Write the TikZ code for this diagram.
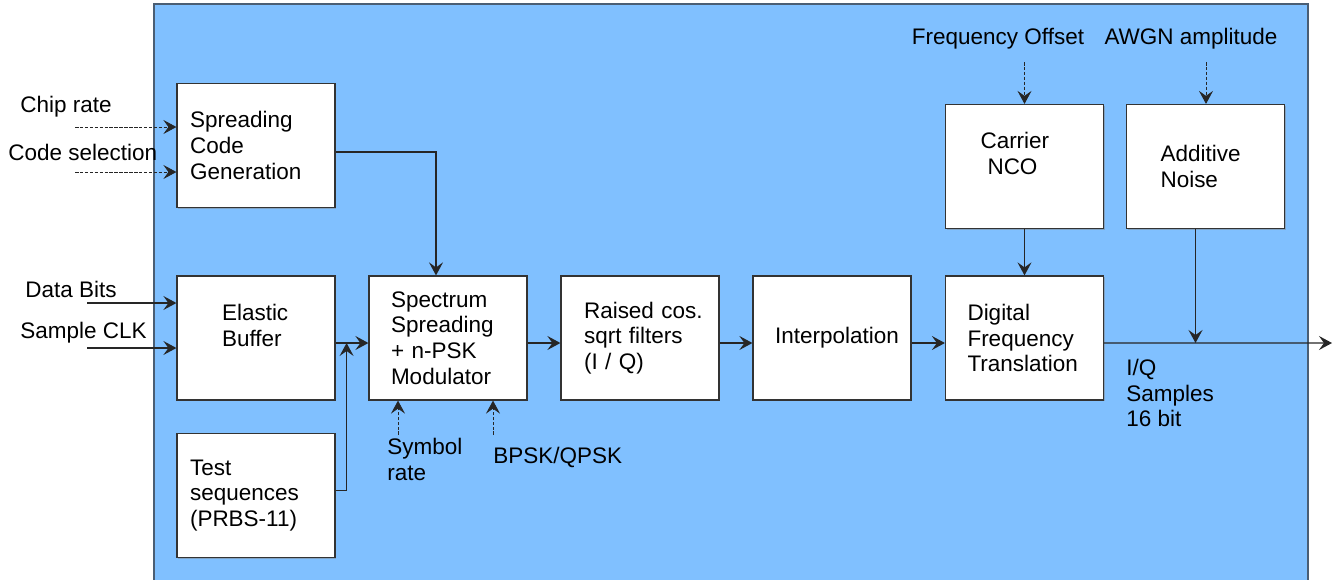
\documentclass[tikz,border=0pt]{standalone}
\usepackage{fontspec}
\setmainfont{Liberation Sans}
\usetikzlibrary{arrows.meta,shadows}
\definecolor{panelblue}{HTML}{80C0FF}
\definecolor{paneledge}{HTML}{4A5E74}
\definecolor{boxedge}{HTML}{333333}

\tikzset{
    blk/.style={draw=boxedge, fill=white, line width=0.7pt, minimum width=3.16cm,
        minimum height=2.48cm, align=left, inner ysep=0pt,
        drop shadow={shadow xshift=0.6pt, shadow yshift=-0.6pt, opacity=0.45}},
    txt/.style={inner sep=0pt, align=left},
    sig/.style={draw=black!85, line width=0.8pt, -{Stealth[length=2.6mm,width=2.8mm,inset=1mm]}},
    ctl/.style={sig, line width=0.45pt, dash pattern=on 2pt off 0.8pt}
}

\begin{document}
\begin{tikzpicture}[x=0.02cm, y=-0.02cm, font=\fontsize{12.8}{14.7}\selectfont]
    \useasboundingbox (0,0) rectangle (1336,579);

    % Panel
    \fill[panelblue] (154,4) rectangle (1308,590);
    \draw[paneledge, line width=1.2pt] (154,590) -- (154,4) -- (1308,4) -- (1308,590);

    % Blocks
    \node[blk, inner xsep=0.26cm, text width=2.64cm] (scg) at (256,145.5) {Spreading\\Code\\Generation};
    \node[blk, inner xsep=0.9cm, text width=1.36cm] (buf) at (256,338) {Elastic\\Buffer\\\mbox{}};
    \node[blk, inner xsep=0.26cm, text width=2.64cm] (tst) at (256,495.5) {Test\\sequences\\(PRBS-11)};
    \node[blk, inner xsep=0.44cm, text width=2.28cm] (spr) at (448,338) {Spectrum\\Spreading\\+ n-PSK\\Modulator};
    \node[blk, inner xsep=0.46cm, text width=2.24cm] (rcf) at (640,338) {Raised~cos.\\sqrt~filters\\(I / Q)};
    \node[blk, inner xsep=0.44cm, text width=2.28cm] (itp) at (832,338) {Interpolation};
    \node[blk, inner xsep=0.44cm, text width=2.28cm] (dft) at (1024.5,338) {Digital\\Frequency\\Translation};
    \node[blk, inner xsep=0.7cm, text width=1.76cm] (nco) at (1024.5,166.5) {Carrier\\\hspace*{0.14cm}NCO\\\mbox{}};
    \node[blk, inner xsep=0.68cm, text width=1.8cm] (noi) at (1205.5,166.5) {Additive\\Noise};

    % Outside inputs
    \coordinate (cr) at (75,127);
    \coordinate (cs) at (75,172);
    \coordinate (db) at (87,303);
    \coordinate (sc) at (87,348);
    \coordinate (fo) at (1024.5,62);
    \coordinate (aw) at (1206,62);
    \coordinate (sr) at (398,435);
    \coordinate (bq) at (493,435);
    \coordinate (out) at (1332,343);

    \node[txt, anchor=west] (crl) at (20,107) {Chip rate};
    \node[txt, anchor=west] (csl) at (8,152) {Code selection};
    \node[txt, anchor=west] (dbl) at (25,289) {Data Bits};
    \node[txt, anchor=west] (scl) at (20,333) {Sample CLK};
    \node[txt] (fol) at (998,39) {Frequency Offset};
    \node[txt] (awl) at (1191,39) {AWGN amplitude};
    \node[txt, anchor=west] (srl) at (387,459.5) {Symbol\\rate};
    \node[txt, anchor=west] (bql) at (493,457) {BPSK/QPSK};
    \node[txt, anchor=west] (iql) at (1126,393) {I/Q\\Samples\\16 bit};

    \draw[ctl] (cr) -- (cr -| scg.west);
    \draw[ctl] (cs) -- (cs -| scg.west);
    \draw[sig] (db) -- (db -| buf.west);
    \draw[sig] (sc) -- (sc -| buf.west);
    \draw[ctl] (fo) -- (nco.north);
    \draw[ctl] (aw) -- (aw |- noi.north);
    \draw[ctl] (sr) -- (sr |- spr.south);
    \draw[ctl] (bq) -- (bq |- spr.south);

    % Signal path
    \draw[sig] ([yshift=-0.13cm]scg.east) -| ([xshift=-0.24cm]spr.north);
    \draw[sig] ([yshift=-0.1cm]buf.east) -- ([yshift=-0.1cm]spr.west);
    \draw[sig] ([yshift=0.1cm]tst.east) -| ([xshift=0.22cm,yshift=-0.1cm]buf.east);
    \foreach \a/\b in {spr/rcf, rcf/itp, itp/dft}
        \draw[sig] ([yshift=-0.1cm]\a.east) -- ([yshift=-0.1cm]\b.west);
    \draw[sig] (nco) -- (dft);
    \draw[sig] ([yshift=-0.1cm]dft.east) -- (out);
    \draw[sig] ([xshift=-0.2cm]noi.south) -- ([xshift=-0.2cm]noi.south |- out);
\end{tikzpicture}
\end{document}
